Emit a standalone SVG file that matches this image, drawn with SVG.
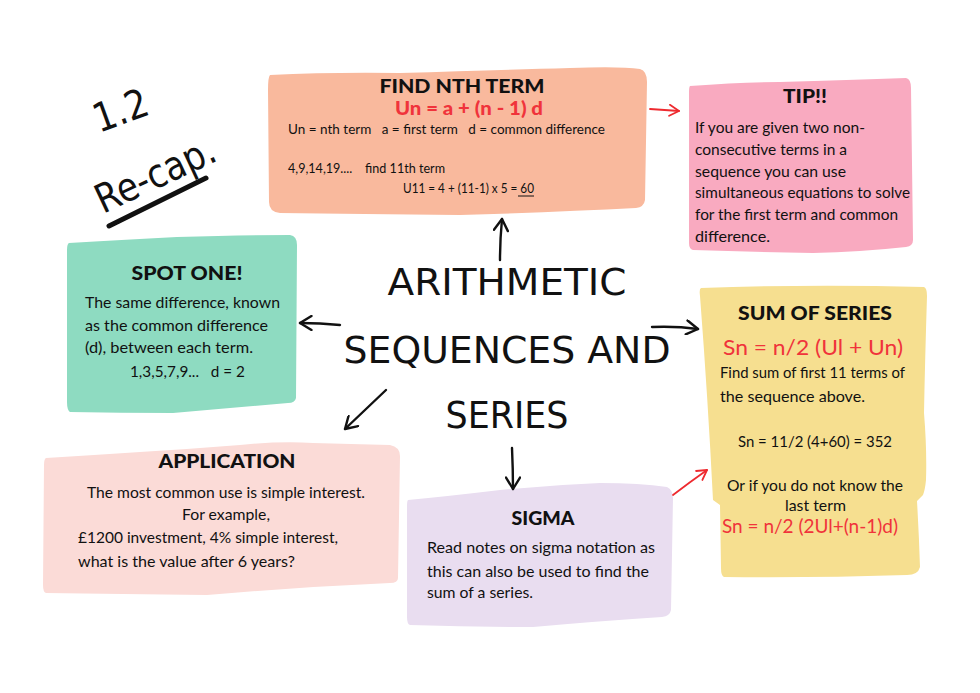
<svg xmlns="http://www.w3.org/2000/svg" width="980" height="693" viewBox="0 0 980 693">
<style>
.hd{font-family:Lato,'DejaVu Sans',sans-serif;font-weight:900;fill:#111}
.bd{font-family:Lato,'Liberation Sans',sans-serif;fill:#111;white-space:pre}
.red{fill:#f0333b}
.big{font-family:'DejaVu Sans',sans-serif;fill:#111}
.hand{font-family:'DejaVu Sans',sans-serif;fill:#111}
.ar{fill:none;stroke:#111;stroke-width:2.4;stroke-linecap:round;stroke-linejoin:round}
.arr{fill:none;stroke:#ee2a2f;stroke-width:1.8;stroke-linecap:round;stroke-linejoin:round}
</style>
<defs>
<marker id="hb" markerUnits="userSpaceOnUse" markerWidth="16" markerHeight="16" viewBox="0 0 16 16" refX="13" refY="8" orient="auto">
<path d="M1.5,1 L13,8 L1.5,15" fill="none" stroke="#111" stroke-width="2.4" stroke-linecap="round" stroke-linejoin="round"/>
</marker>
<marker id="hr" markerUnits="userSpaceOnUse" markerWidth="14" markerHeight="14" viewBox="0 0 14 14" refX="11" refY="7" orient="auto">
<path d="M1.5,1.5 L11,7 L1.5,12.5" fill="none" stroke="#ee2a2f" stroke-width="1.8" stroke-linecap="round" stroke-linejoin="round"/>
</marker>
</defs>
<rect width="980" height="693" fill="#ffffff"/>

<g id="heading">
<text class="hand" x="99" y="133" font-size="40" transform="rotate(-20 99 133)" textLength="56" lengthAdjust="spacingAndGlyphs">1.2</text>
<text class="hand" x="103" y="214" font-size="40" transform="rotate(-25 103 214)" textLength="128" lengthAdjust="spacingAndGlyphs">Re-cap.</text>
<line x1="109" y1="226" x2="206" y2="178" stroke="#111" stroke-width="5" stroke-linecap="round"/>
</g>

<g id="title">
<text class="big" x="507" y="295" font-size="38" text-anchor="middle" textLength="239" lengthAdjust="spacingAndGlyphs">ARITHMETIC</text>
<text class="big" x="507" y="363" font-size="38" text-anchor="middle" textLength="327" lengthAdjust="spacingAndGlyphs">SEQUENCES AND</text>
<text class="big" x="507" y="428" font-size="38" text-anchor="middle" textLength="123" lengthAdjust="spacingAndGlyphs">SERIES</text>
</g>

<g id="find-nth-term">
<path d="M270,75 Q330,72 400,73 Q500,70 570,68 Q620,66 640,69 Q647,71 647,82 L645,200 Q644,207 636,208 Q560,212 460,215 Q360,214 280,213 Q269,212 269,202 L268,90 Q268,77 270,75 Z" fill="#f9b99d"/>
<text class="hd" x="462" y="93" font-size="18" text-anchor="middle" textLength="165" lengthAdjust="spacingAndGlyphs">FIND NTH TERM</text>
<text class="hd red" x="469" y="115" font-size="18" text-anchor="middle" textLength="148" lengthAdjust="spacingAndGlyphs">Un = a + (n - 1) d</text>
<text class="bd" x="288" y="134" font-size="13" textLength="317" lengthAdjust="spacingAndGlyphs">Un = nth term   a = first term   d = common difference</text>
<text class="bd" x="288" y="173" font-size="13" textLength="157" lengthAdjust="spacingAndGlyphs">4,9,14,19....    find 11th term</text>
<text class="bd" x="403" y="193" font-size="13" textLength="131" lengthAdjust="spacingAndGlyphs">U11 = 4 + (11-1) x 5 = 60</text>
<line x1="518" y1="196" x2="534" y2="196" stroke="#111" stroke-width="1"/>
</g>

<g id="tip">
<path d="M690,86 Q740,82 780,82 Q850,80 906,78 Q911,79 911,88 L913,240 Q913,246 906,247 Q860,252 813,253 Q750,252 693,250 Q689,249 689,243 L689,92 Q689,87 690,86 Z" fill="#f9aac0"/>
<text class="hd" x="805" y="103" font-size="19" text-anchor="middle" textLength="44" lengthAdjust="spacingAndGlyphs">TIP!!</text>
<text class="bd" x="695" y="133" font-size="15" textLength="170" lengthAdjust="spacingAndGlyphs">If you are given two non-</text>
<text class="bd" x="695" y="155" font-size="15" textLength="152" lengthAdjust="spacingAndGlyphs">consecutive terms in a</text>
<text class="bd" x="695" y="177" font-size="15" textLength="151" lengthAdjust="spacingAndGlyphs">sequence you can use</text>
<text class="bd" x="695" y="198" font-size="15" textLength="215" lengthAdjust="spacingAndGlyphs">simultaneous equations to solve</text>
<text class="bd" x="695" y="220" font-size="15" textLength="203" lengthAdjust="spacingAndGlyphs">for the first term and common</text>
<text class="bd" x="695" y="242" font-size="15" textLength="75" lengthAdjust="spacingAndGlyphs">difference.</text>
</g>

<g id="spot-one">
<path d="M69,243 Q120,240 177,237 Q240,235 290,235 Q297,236 297,245 L296,398 Q295,403 288,403 Q230,408 173,413 Q120,413 70,412 Q67,410 67,402 L67,250 Q67,244 69,243 Z" fill="#8edbc1"/>
<text class="hd" x="187" y="280" font-size="19" text-anchor="middle" textLength="111" lengthAdjust="spacingAndGlyphs">SPOT ONE!</text>
<text class="bd" x="85" y="308" font-size="15" textLength="195" lengthAdjust="spacingAndGlyphs">The same difference, known</text>
<text class="bd" x="85" y="331" font-size="15" textLength="183" lengthAdjust="spacingAndGlyphs">as the common difference</text>
<text class="bd" x="85" y="353" font-size="15" textLength="168" lengthAdjust="spacingAndGlyphs">(d), between each term.</text>
<text class="bd" x="130" y="377" font-size="15" textLength="115" lengthAdjust="spacingAndGlyphs">1,3,5,7,9...   d = 2</text>
</g>

<g id="sum-of-series">
<path d="M701,288 Q810,284 924,287 Q927,288 927,296 Q925,360 924,413 Q927,450 926,480 Q925,490 923,495 L917,501 Q919,535 920,567 Q918,575 907,575 Q815,578 724,577 Q721,576 721,568 L720,505 L713,500 Q708,400 700,296 Q699,289 701,288 Z" fill="#f6df90"/>
<text class="hd" x="815" y="320" font-size="19" text-anchor="middle" textLength="154" lengthAdjust="spacingAndGlyphs">SUM OF SERIES</text>
<text class="bd red" x="723" y="355" font-size="21" textLength="180" lengthAdjust="spacingAndGlyphs">Sn = n/2 (Ul + Un)</text>
<text class="bd" x="720" y="378" font-size="15" textLength="185" lengthAdjust="spacingAndGlyphs">Find sum of first 11 terms of</text>
<text class="bd" x="720" y="402" font-size="15" textLength="145" lengthAdjust="spacingAndGlyphs">the sequence above.</text>
<text class="bd" x="738" y="447" font-size="15" textLength="154" lengthAdjust="spacingAndGlyphs">Sn = 11/2 (4+60) = 352</text>
<text class="bd" x="727" y="491" font-size="15" textLength="176" lengthAdjust="spacingAndGlyphs">Or if you do not know the</text>
<text class="bd" x="785" y="511" font-size="15" textLength="61" lengthAdjust="spacingAndGlyphs">last term</text>
<text class="bd red" x="722" y="533" font-size="20" textLength="176" lengthAdjust="spacingAndGlyphs">Sn = n/2 (2Ul+(n-1)d)</text>
</g>

<g id="application">
<path d="M46,458 Q95,455 140,452 Q190,449 240,445 Q280,441 313,443 Q350,444 390,445 Q400,447 400,456 L398,578 Q398,583 390,583 Q300,587 207,595 Q120,594 46,593 Q43,592 43,585 L44,465 Q44,459 46,458 Z" fill="#fbdbd7"/>
<text class="hd" x="227" y="468" font-size="19" text-anchor="middle" textLength="137" lengthAdjust="spacingAndGlyphs">APPLICATION</text>
<text class="bd" x="226" y="498" font-size="15" text-anchor="middle" textLength="278" lengthAdjust="spacingAndGlyphs">The most common use is simple interest.</text>
<text class="bd" x="226" y="520" font-size="15" text-anchor="middle" textLength="88" lengthAdjust="spacingAndGlyphs">For example,</text>
<text class="bd" x="78" y="543" font-size="15" textLength="260" lengthAdjust="spacingAndGlyphs">£1200 investment, 4% simple interest,</text>
<text class="bd" x="78" y="567" font-size="15" textLength="217" lengthAdjust="spacingAndGlyphs">what is the value after 6 years?</text>
</g>

<g id="sigma">
<path d="M408,500 Q450,496 500,490 Q550,485 600,483 Q640,483 667,487 Q673,490 673,498 L671,610 Q670,616 662,617 Q600,621 533,627 Q470,627 410,625 Q407,624 407,617 L407,506 Q407,501 408,500 Z" fill="#e9ddf0"/>
<text class="hd" x="543" y="525" font-size="19" text-anchor="middle" textLength="63" lengthAdjust="spacingAndGlyphs">SIGMA</text>
<text class="bd" x="427" y="553" font-size="15" textLength="228" lengthAdjust="spacingAndGlyphs">Read notes on sigma notation as</text>
<text class="bd" x="427" y="577" font-size="15" textLength="222" lengthAdjust="spacingAndGlyphs">this can also be used to find the</text>
<text class="bd" x="427" y="598" font-size="15" textLength="106" lengthAdjust="spacingAndGlyphs">sum of a series.</text>
</g>

<g id="connectors">
<path class="ar" d="M500,260 Q500,240 502,219" marker-end="url(#hb)"/>
<path class="ar" d="M340,325 Q320,323 300,323" marker-end="url(#hb)"/>
<path class="ar" d="M652,327 Q676,326 698,329" marker-end="url(#hb)"/>
<path class="ar" d="M386,390 Q365,410 345,429" marker-end="url(#hb)"/>
<path class="ar" d="M512,448 Q513,470 513,489" marker-end="url(#hb)"/>
<path class="arr" d="M650,109 Q665,110 679,111" marker-end="url(#hr)"/>
<path class="arr" d="M673,495 Q690,482 707,470" marker-end="url(#hr)"/>
</g>
</svg>
